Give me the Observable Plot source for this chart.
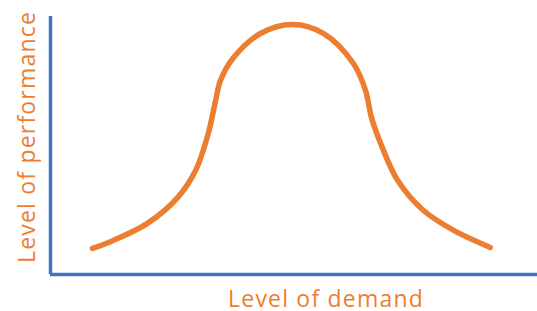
<!DOCTYPE html>
<html>
<head>
<meta charset="utf-8">
<script src="https://cdn.jsdelivr.net/npm/d3@7"></script>
<script src="https://cdn.jsdelivr.net/npm/@observablehq/plot@0.6"></script>
<style>
  html, body { margin: 0; padding: 0; background: #fff; }
</style>
</head>
<body>
<div id="chart"></div>
<script>
// Level of demand (x) vs level of performance (y), both on a 0–100 scale
const demand = [8.6, 12.9, 19.9, 26.1, 29.8, 32.4, 33.9, 34.9, 37.6, 43.1, 49.7, 56.1, 62.2, 64.7, 65.9, 67.8, 71.3, 76.6, 82.8, 90.3];
const performance = [10.1, 13.2, 19.8, 29.8, 40.3, 54.7, 67.4, 75.2, 84.1, 93.4, 96.9, 93.4, 81.8, 71.3, 60.9, 50.8, 36.4, 24.8, 17.1, 10.5];
const xLabel = "Level of demand";
const yLabel = "Level of performance";

const orange = "#ED7D31";
const blue = "#4472C4";
const data = demand.map((d, i) => ({demand: d, performance: performance[i]}));

const chart = Plot.plot({
  width: 537,
  height: 311,
  marginLeft: 50,
  marginRight: 0,
  marginTop: 16,
  marginBottom: 37,
  style: {fontFamily: "'Open Sans', sans-serif", letterSpacing: "1.2px", background: "#fff", overflow: "visible"},
  x: {domain: [0, 100], axis: null},
  y: {domain: [0, 100], axis: null},
  marks: [
    Plot.ruleX([0], {y1: 0, y2: 100, stroke: blue, strokeWidth: 3.5}),
    Plot.ruleY([0], {x1: 0, x2: 100, stroke: blue, strokeWidth: 3.5}),
    Plot.line(data, {x: "demand", y: "performance", curve: "catmull-rom", stroke: orange, strokeWidth: 5.5, strokeLinejoin: "round"}),
    Plot.text([yLabel], {frameAnchor: "left", text: d => d, rotate: -90, textAnchor: "middle", lineAnchor: "middle", dx: -23, dy: -8.5, fill: orange, fontSize: 23}),
    Plot.text([xLabel], {frameAnchor: "bottom", text: d => d, textAnchor: "middle", lineAnchor: "middle", dx: 32, dy: 25, fill: orange, fontSize: 23})
  ]
});
document.getElementById("chart").appendChild(chart);
</script>
</body>
</html>
